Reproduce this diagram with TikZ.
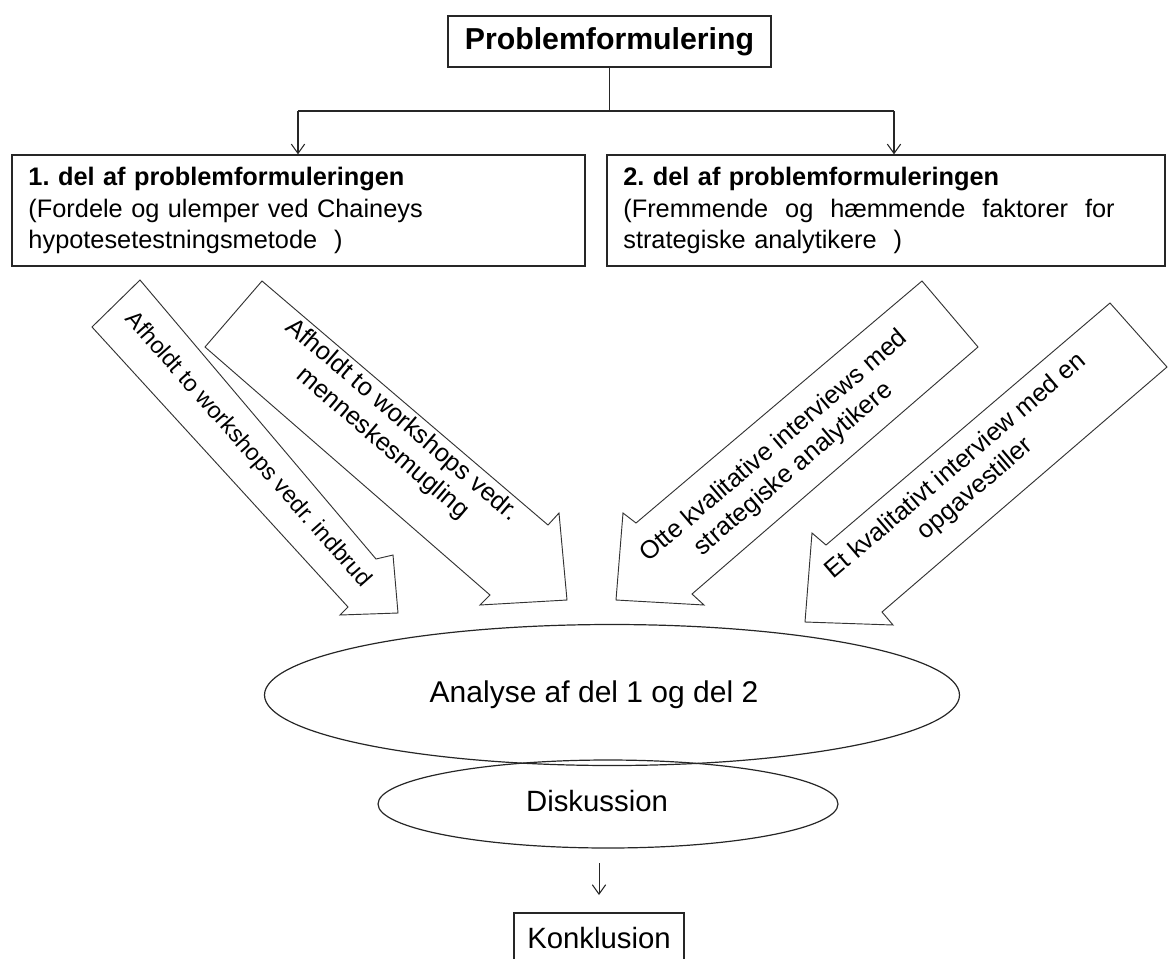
\documentclass[tikz,border=0pt]{standalone}
\usepackage{fontspec}
\setmainfont{Liberation Sans}
\usetikzlibrary{arrows.meta,shapes.geometric}
\begin{document}
\frenchspacing
\begin{tikzpicture}[x=0.75pt,y=-0.75pt,
  box/.style={draw=black!85,line width=1pt,inner sep=0pt},
  conn/.style={draw=black!85,line width=0.9pt,-{Straight Barb[length=7pt,width=10pt,line width=0.8pt]}},
  fat/.style={draw=black!80,line width=0.7pt,fill=white,line join=miter},
  ftext/.style={font=\fontsize{19}{22.5}\selectfont,align=center,inner sep=0pt},
  ell/.style={draw=black!85,line width=0.9pt,ellipse,inner sep=0pt},
  plain/.style={inner sep=0pt},
  parttext/.style={box,align=left,inner xsep=12pt,text width=405pt,font=\fontsize{19}{23.5}\selectfont}]
\useasboundingbox (0,0) rectangle (1168,958);

% top box
\node[box,minimum width=242.25pt,minimum height=38.25pt,font=\bfseries\fontsize{22.7}{26}\selectfont] (top) at (609.5,41.5) {Problemformulering};

% part boxes
\node[parttext,minimum width=429.75pt,minimum height=83.25pt] (b1) at (298.5,210.5)
  {\textbf{1. del af problemformuleringen}\\(Fordele og ulemper ved Chaineys\\hypotesetestningsmetode~ )};
\node[parttext,text width=394pt,minimum width=418.5pt,minimum height=83.25pt] (b2) at (886,210.5)
  {\textbf{2. del af problemformuleringen}\\(Fremmende\ \ og\ \ hæmmende\ \ faktorer\ \ for\\strategiske analytikere~ )};

% connectors
\coordinate (j) at (609.5,111);
\coordinate (l) at (298,111);
\coordinate (r) at (894,111);
\draw[draw=black!85,line width=1pt] (top.south) -- (j);
\draw[draw=black!85,line width=1pt] (l) -- (r);
\draw[conn] (l) -- (l |- b1.north);
\draw[conn] (r) -- (r |- b2.north);

% fat arrows
\draw[fat] (140,280) -- (376,559) -- (393,555) -- (398,613) -- (340,615) -- (348,607) -- (92,327) -- cycle;
\node[ftext,font=\fontsize{17.5}{21}\selectfont,rotate=-48.5] (a1) at (248,450) {Afholdt to workshops vedr. indbrud};

\draw[fat] (262,281) -- (548,525) -- (559,513) -- (567,600) -- (480,605) -- (490,595) -- (205,347) -- cycle;
\node[ftext,rotate=-40.5] (a2) at (392,432) {Afholdt to workshops vedr.\\menneskesmugling};

\draw[fat] (922,281) -- (636,523) -- (623,513) -- (616,600) -- (704,605) -- (692,594) -- (978,347) -- cycle;
\node[ftext,rotate=40.5] (a3) at (784,458) {Otte kvalitative interviews med\\strategiske analytikere};

\draw[fat] (1110,303) -- (826,545) -- (812,533) -- (805,622) -- (893,625) -- (882,612) -- (1167,367) -- cycle;
\node[ftext,rotate=40.5] (a4) at (966,478) {Et kvalitativt interview med en\\opgavestiller};

% ellipses
\node[ell,minimum width=521.25pt,minimum height=105.75pt] (ana) at (612,695) {};
\node[plain,font=\fontsize{22.5}{26}\selectfont] (anat) at (594,695) {Analyse af del 1 og del 2};
\node[ell,minimum width=345pt,minimum height=66pt] (dis) at (608,804) {};
\node[plain,font=\fontsize{22}{26}\selectfont] (dist) at (597,801) {Diskussion};

% conclusion
\node[box,minimum width=127.5pt,minimum height=48pt] (kon) at (599,945) {};
\node[plain,font=\fontsize{22}{26}\selectfont] (kont) at (599,938) {Konklusion};
\draw[conn,line width=0.7pt,shorten <=11pt,shorten >=13pt] (kon.north |- dis.south) -- (kon.north);
\end{tikzpicture}
\end{document}
